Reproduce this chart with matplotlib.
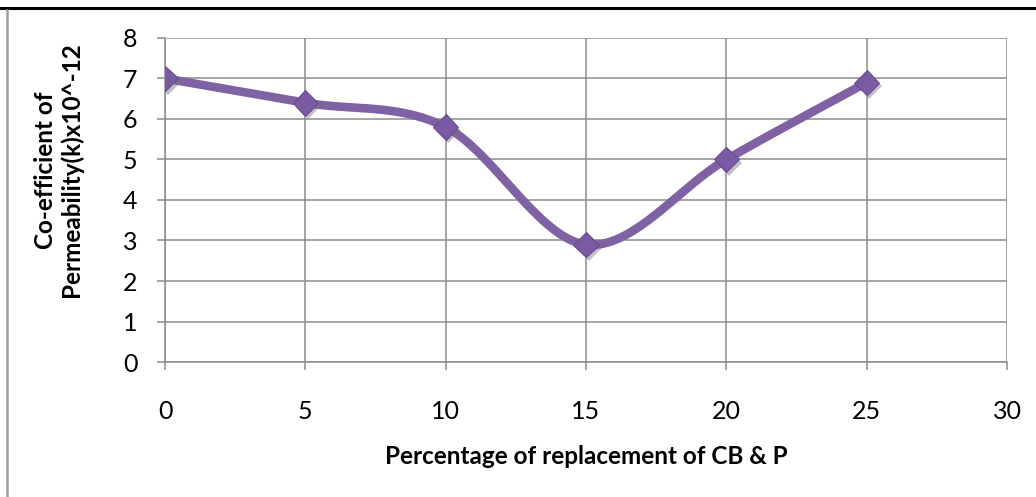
import numpy as np
import matplotlib.pyplot as plt
import matplotlib.patheffects as pe
from matplotlib.lines import Line2D

# permeability coefficient vs. replacement percentage
replacement = [0, 5, 10, 15, 20, 25]
permeability = [7.0, 6.4, 5.8, 2.9, 5.0, 6.9]

x_ticks = [0, 5, 10, 15, 20, 25, 30]
y_ticks = [0, 1, 2, 3, 4, 5, 6, 7, 8]

line_color = '#7F62A3'
grid_color = '#8C8C8C'

plt.rcParams['font.family'] = ['Lato', 'DejaVu Sans']


def smooth_curve(xs, ys, n=40):
    # spreadsheet-style smoothed line: cubic bezier with catmull-rom control points
    pts = np.column_stack([xs, ys]).astype(float)
    out = []
    for i in range(len(pts) - 1):
        p0 = pts[i - 1] if i > 0 else pts[i]
        p1 = pts[i]
        p2 = pts[i + 1]
        p3 = pts[i + 2] if i + 2 < len(pts) else pts[i + 1]
        c1 = p1 + (p2 - p0) / 6
        c2 = p2 - (p3 - p1) / 6
        t = np.linspace(0, 1, n)[:, None]
        seg = ((1 - t) ** 3) * p1 + 3 * ((1 - t) ** 2) * t * c1 + 3 * (1 - t) * t ** 2 * c2 + t ** 3 * p2
        out.append(seg if i == 0 else seg[1:])
    seg = np.vstack(out)
    return seg[:, 0], seg[:, 1]


fig = plt.figure(figsize=(10.36, 4.97), dpi=100)
ax = fig.add_axes([0.1593, 0.2716, 0.8127, 0.652])

sx, sy = smooth_curve(replacement, permeability)
ax.plot(sx, sy, color=line_color, lw=6.2, solid_capstyle='round', solid_joinstyle='round', zorder=3)
ax.plot(replacement, permeability, linestyle='none', marker='D', ms=13,
        markerfacecolor='#7A5AA3', markeredgecolor='#694B90', markeredgewidth=0.8, zorder=4,
        path_effects=[pe.SimplePatchShadow(offset=(2, -2.5), shadow_rgbFace='#777777', alpha=0.45), pe.Normal()])

ax.set_xlim(0, 30)
ax.set_ylim(0, 8)
ax.set_xticks(x_ticks)
ax.set_yticks(y_ticks)
ax.grid(True, color=grid_color, lw=1.1)
ax.set_axisbelow(True)
for s in ax.spines.values():
    s.set_visible(False)
ax.spines['left'].set_visible(True)
ax.spines['bottom'].set_visible(True)
ax.spines['left'].set_color(grid_color)
ax.spines['bottom'].set_color(grid_color)
ax.spines['left'].set_linewidth(1.1)
ax.spines['bottom'].set_linewidth(1.1)
ax.tick_params(axis='x', length=6, width=1.1, color=grid_color, pad=21, labelsize=18)
ax.tick_params(axis='y', length=6, width=1.1, color=grid_color, pad=14, labelsize=18)

ax.set_xlabel('Percentage of replacement of CB & P', fontsize=17.5, fontweight='bold', labelpad=16)
fig.text(0.0565, 0.658, 'Co-efficient of\nPermeability(k)x10^-12', rotation=90, fontsize=17.5,
         fontweight='bold', ha='center', va='center', multialignment='center', linespacing=1.1)

# page frame around the chart
fig.add_artist(Line2D([0, 1], [1 - 8 / 497, 1 - 8 / 497], color='black', lw=2.2, transform=fig.transFigure))
fig.add_artist(Line2D([7 / 1036, 7 / 1036], [0, 1 - 10 / 497], color='#A0A0A0', lw=1.8, transform=fig.transFigure))

fig.savefig('out.png', dpi=100)
